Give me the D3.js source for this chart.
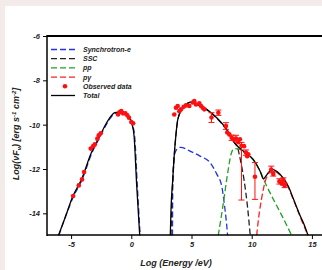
<!DOCTYPE html>
<html>
<head>
<meta charset="utf-8">
<script src="https://cdn.jsdelivr.net/npm/d3@7"></script>
<style>
  html, body { margin: 0; padding: 0; background: #f3eaea; }
  svg { display: block; }
  text { font-family: "Liberation Sans", Arial, sans-serif; font-weight: bold; font-style: italic; }
</style>
</head>
<body>
<div id="chart"></div>
<script>
// ---- data (log10 E in eV, log10 nuFnu in erg s-1 cm-2) ----
const syncE = [-6.02, -5.5, -4.8, -4.1, -3.28, -2.6, -2.17, -1.76, -1.33, -0.8, -0.24, 0.1, 0.28, 0.5, 0.74,
               null,
               3.42, 3.45, 3.57, 3.8, 4.1, 4.88, 5.71, 6.54, 7.09, 7.51, 7.73, 7.9, 8.0];
const syncF = [-15, -14.2, -13.24, -12.5, -11.29, -10.55, -10.09, -9.72, -9.49, -9.45, -9.63, -10.0, -10.52, -12.75, -15,
               null,
               -15, -12.5, -11.4, -11.1, -11.02, -11.19, -11.42, -11.71, -12.22, -12.77, -13.6, -14.4, -15];

const sscE = [3.3, 3.36, 3.46, 3.58, 3.72, 3.85, 4.19, 4.74, 4.9, 5.43, 6.26, 7.09, 7.92, 8.4, 8.83, 9.1, 9.38, 9.65, 9.88];
const sscF = [-15, -13.6, -12.4, -11.3, -10.4, -9.82, -9.32, -9.02, -8.99, -9.09, -9.32, -9.7, -10.25, -10.7, -11.05, -11.7, -12.55, -13.7, -15];

const ppE = [7.22, 7.6, 8.0, 8.3, 8.55, 8.9, 9.3, 10.13, 10.7, 11.1, 11.8, 12.6, 13.32];
const ppF = [-15, -13.7, -12.2, -11.3, -11.08, -11.1, -11.22, -11.6, -12.1, -12.6, -13.37, -14.2, -15];

const pgE = [10.41, 10.6, 10.8, 11.1, 11.4, 11.65, 11.9, 12.35, 13.03, 13.5, 14.09, 14.68];
const pgF = [-15, -14.1, -13.4, -12.6, -12.2, -12.05, -12.08, -12.28, -12.82, -13.44, -14.24, -15];

const totalE = [-6.05, -5.5, -4.83, -4.14, -3.31, -2.62, -2.2, -1.79, -1.37, -0.83, -0.27, 0.06, 0.23, 0.45, 0.7,
                null,
                3.24, 3.3, 3.44, 3.55, 3.7, 3.85, 4.19, 4.74, 4.9, 5.43, 6.26, 7.09, 7.92, 8.61, 9.3, 10.13, 10.7,
                10.98, 11.2, 11.4, 11.66, 12.35, 13.03, 13.5, 14.09, 14.35, 14.68];
const totalF = [-15, -14.2, -13.2, -12.47, -11.26, -10.52, -10.06, -9.69, -9.46, -9.42, -9.6, -9.98, -10.5, -12.75, -15,
                null,
                -15, -13.8, -12.5, -11.5, -10.5, -9.8, -9.31, -9.01, -8.98, -9.08, -9.31, -9.69, -10.21, -10.85, -11.19, -11.57, -12.1,
                -12.45, -12.3, -12.15, -12.02, -12.24, -12.77, -13.4, -14.19, -14.5, -15];

// observed points, with error bar lengths (0 = none)
const obsE = [-4.83, -4.36, -4.09, -3.92, -3.37, -3.17, -3.03, -2.82, -2.70, -2.54, -1.10, -0.96, -0.83, -0.69, -0.49, -0.33, -0.19, 0.0, 0.15,
              3.57, 3.71, 3.85, 3.99, 4.13, 4.35, 4.54, 4.82, 5.10, 5.23, 5.37, 5.65, 5.79, 5.93, 6.06,
              6.66, 7.23, 7.86, 7.97, 8.14, 8.34, 8.53, 8.69, 8.88, 9.02, 9.15, 9.36, 9.52, 9.63, 9.71,
              10.27, 11.62, 11.79, 12.3, 12.5, 12.62, 12.74];
const obsF = [-13.22, -12.74, -12.47, -12.14, -11.08, -10.97, -10.89, -10.63, -10.48, -10.39, -9.54, -9.43, -9.39, -9.49, -9.49, -9.58, -9.69, -9.88, -9.94,
              -9.54, -9.24, -9.16, -9.39, -9.31, -9.19, -9.13, -9.16, -9.0, -8.94, -9.09, -9.04, -9.16, -9.24, -9.31,
              -9.68, -9.46, -10.06, -10.35, -10.44, -10.59, -10.66, -10.63, -10.79, -10.66, -10.95, -10.97, -11.26, -11.42, -11.34,
              -12.35, -12.02, -12.22, -12.56, -12.66, -12.5, -12.74];
const obsUp = [0, 0, 0, 0, 0, 0, 0, 0, 0, 0, 0, 0, 0, 0, 0, 0, 0, 0, 0,
               0, 0, 0, 0, 0, 0, 0, 0, 0, 0, 0, 0, 0, 0, 0,
               0.22, 0.12, 0.15, 0, 0, 0.12, 0, 0.15, 0, 0, 0.15, 0, 0.12, 0, 0,
               0.64, 0.15, 0.1, 0.12, 0, 0.1, 0.1];
const obsDown = [0, 0, 0, 0, 0, 0, 0, 0, 0, 0, 0, 0, 0, 0, 0, 0, 0, 0, 0,
                 0, 0, 0, 0, 0, 0, 0, 0, 0, 0, 0, 0, 0, 0, 0,
                 0.22, 0.12, 0.15, 0, 0, 0.12, 0, 0.15, 0, 0, 2.45, 0, 0.12, 0, 0,
                 1.02, 0.15, 0.1, 0.12, 0, 0.1, 0.1];

const xTicks = [-5, 0, 5, 10, 15];
const yTicks = [-6, -8, -10, -12, -14];

const legendItems = [
    { label: "Synchrotron-e", color: "#2233dd", dash: "6,3", kind: "line" },
    { label: "SSC", color: "#222", dash: "6,3", kind: "line" },
    { label: "pp", color: "#22a022", dash: "6,3", kind: "line" },
    { label: "p\u03b3", color: "#ff2020", dash: "6,3", kind: "line" },
    { label: "Observed data", color: "#ff1010", kind: "dot" },
    { label: "Total", color: "#000", dash: null, kind: "line" }
];

// ---- layout ----
const W = 322, H = 270;
const svg = d3.select("#chart").append("svg")
    .attr("width", W).attr("height", H);

svg.append("rect").attr("x", 5).attr("y", 6).attr("width", W).attr("height", H)
    .attr("fill", "#fff");

const x = d3.scaleLinear().domain([-7, 17]).range([47, 336]);
const y = d3.scaleLinear().domain([-6, -15]).range([36, 235.5]);

svg.append("clipPath").attr("id", "plotclip")
    .append("rect").attr("x", 47).attr("y", 36).attr("width", 289).attr("height", 199.5);

const zip = (xs, ys) => xs.map((v, i) => [v, ys[i]]);
const line = d3.line()
    .defined(d => d[0] !== null)
    .x(d => x(d[0])).y(d => y(d[1]))
    .curve(d3.curveMonotoneX);

const plot = svg.append("g").attr("clip-path", "url(#plotclip)");

const series = [
    { pts: zip(syncE, syncF), color: "#2233dd", dash: "6,3" },
    { pts: zip(sscE, sscF), color: "#222", dash: "6,3" },
    { pts: zip(ppE, ppF), color: "#22a022", dash: "6,3" },
    { pts: zip(pgE, pgF), color: "#ff2020", dash: "6,3" },
    { pts: zip(totalE, totalF), color: "#000", dash: null }
];

plot.selectAll("path.curve")
    .data(series)
    .join("path")
    .attr("class", "curve")
    .attr("d", d => line(d.pts))
    .attr("fill", "none")
    .attr("stroke", d => d.color)
    .attr("stroke-width", 1.3)
    .attr("stroke-dasharray", d => d.dash);

// observed data with error bars
const obs = obsE.map((e, i) => ({ e, f: obsF[i], up: obsUp[i], down: obsDown[i] }));
const bars = obs.filter(d => d.up > 0 || d.down > 0);

const eb = plot.append("g").attr("stroke", "#ff1010").attr("stroke-width", 1);
eb.selectAll("line.v").data(bars).join("line")
    .attr("x1", d => x(d.e)).attr("x2", d => x(d.e))
    .attr("y1", d => y(d.f + d.up)).attr("y2", d => y(d.f - d.down));
eb.selectAll("line.t").data(bars).join("line")
    .attr("x1", d => x(d.e) - 3).attr("x2", d => x(d.e) + 3)
    .attr("y1", d => y(d.f + d.up)).attr("y2", d => y(d.f + d.up));
eb.selectAll("line.b").data(bars).join("line")
    .attr("x1", d => x(d.e) - 3).attr("x2", d => x(d.e) + 3)
    .attr("y1", d => y(d.f - d.down)).attr("y2", d => y(d.f - d.down));

plot.append("g").selectAll("circle")
    .data(obs)
    .join("circle")
    .attr("cx", d => x(d.e))
    .attr("cy", d => y(d.f))
    .attr("r", 2.3)
    .attr("fill", "#ff1010");

// ---- axes ----
const yAxis = svg.append("g").attr("transform", "translate(47,0)")
    .call(d3.axisLeft(y).tickValues(yTicks).tickSize(4).tickPadding(3).tickFormat(d => String(d)));
const xAxis = svg.append("g").attr("transform", "translate(0,235)")
    .call(d3.axisBottom(x).tickValues(xTicks).tickSize(4).tickPadding(3).tickFormat(d => String(d)));

[yAxis, xAxis].forEach(a => {
    a.select(".domain").remove();
    a.selectAll("text").attr("font-size", "7.5px").attr("fill", "#222")
        .attr("font-family", "'Liberation Sans', Arial, sans-serif")
        .attr("font-weight", "bold").attr("font-style", "italic");
    a.selectAll("line").attr("stroke", "#000");
});

// box
svg.append("line").attr("x1", 47).attr("x2", 336).attr("y1", 36).attr("y2", 36)
    .attr("stroke", "#000").attr("stroke-width", 2);
svg.append("line").attr("x1", 47).attr("x2", 336).attr("y1", 235).attr("y2", 235)
    .attr("stroke", "#000").attr("stroke-width", 1.5);
svg.append("line").attr("x1", 47).attr("x2", 47).attr("y1", 35).attr("y2", 236)
    .attr("stroke", "#000").attr("stroke-width", 1.5);

// ---- titles ----
svg.append("text")
    .attr("x", 176).attr("y", 266)
    .attr("text-anchor", "middle")
    .attr("font-size", "9px").attr("fill", "#222")
    .text("Log (Energy /eV)");

const yt = svg.append("text")
    .attr("transform", "translate(19,134) rotate(-90)")
    .attr("text-anchor", "middle")
    .attr("font-size", "9px").attr("fill", "#222");
yt.append("tspan").text("Log(\u03bdF");
yt.append("tspan").attr("font-size", "6px").attr("dy", 2).text("\u03bd");
yt.append("tspan").attr("dy", -2).text(") [erg s");
yt.append("tspan").attr("font-size", "6px").attr("dy", -3).text("-1");
yt.append("tspan").attr("dy", 3).text(" cm");
yt.append("tspan").attr("font-size", "6px").attr("dy", -3).text("-2");
yt.append("tspan").attr("dy", 3).text("]");

// ---- legend ----
const lg = svg.append("g");
const rows = lg.selectAll("g").data(legendItems).join("g")
    .attr("transform", (d, i) => `translate(0,${49.5 + i * 9.2})`);

rows.filter(d => d.kind === "line").append("line")
    .attr("x1", 51).attr("x2", 75).attr("y1", 0).attr("y2", 0)
    .attr("stroke", d => d.color).attr("stroke-width", 1.3)
    .attr("stroke-dasharray", d => d.dash);
rows.filter(d => d.kind === "dot").append("circle")
    .attr("cx", 65).attr("cy", 0).attr("r", 2.3).attr("fill", d => d.color);
rows.append("text")
    .attr("x", 83).attr("y", 0).attr("dy", "0.35em")
    .attr("font-size", "7px").attr("fill", "#222")
    .text(d => d.label);
</script>
</body>
</html>
